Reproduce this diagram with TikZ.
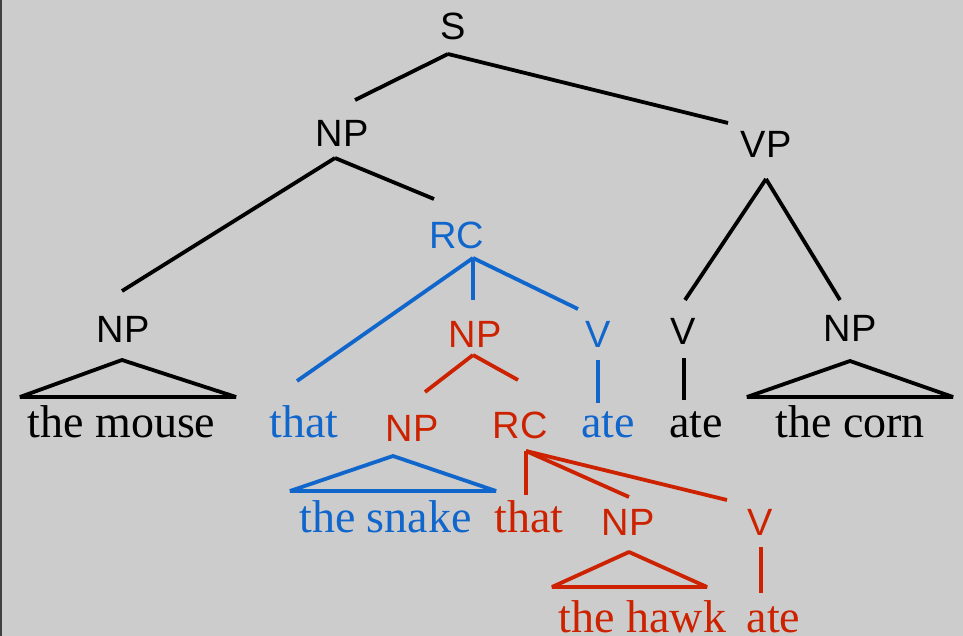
\documentclass[tikz,border=0pt]{standalone}
\usepackage{fontspec}
\setmainfont{Liberation Serif}
\newfontfamily\labfont{Liberation Sans}
\definecolor{tblue}{RGB}{17,102,204}
\definecolor{tred}{RGB}{204,34,0}
\definecolor{bgc}{RGB}{204,204,204}
\begin{document}
\begin{tikzpicture}[x=1pt,y=-1pt,
  lab/.style={font=\labfont\fontsize{38}{38}\selectfont, inner sep=0pt, anchor=base},
  word/.style={font=\fontsize{46}{46}\selectfont, inner sep=0pt, anchor=base},
  br/.style={line width=3.8pt},
  tri/.style={line width=3.8pt, line join=bevel}]
\fill[bgc] (0,0) rectangle (963,636);
\useasboundingbox (0,0) rectangle (963,636);
\fill[black!75] (0,0) rectangle (1.5,636);

% labels
\node[lab] (S) at (453,40) {S};
\node[lab] (NPa) at (342,147) {NP};
\node[lab] (VP) at (766,158) {VP};
\node[lab, text=tblue] (RCa) at (457,248) {RC};
\node[lab] (NPl) at (123,342) {NP};
\node[lab, text=tred] (NPb) at (475,347) {NP};
\node[lab, text=tblue] (Va) at (598,347) {V};
\node[lab] (Vb) at (683,344) {V};
\node[lab] (NPr) at (850,341) {NP};
\node[lab, text=tred] (NPc) at (412,441) {NP};
\node[lab, text=tred] (RCb) at (520,438) {RC};
\node[lab, text=tred] (NPd) at (628,535) {NP};
\node[lab, text=tred] (Vc) at (760,535) {V};

% words
\node[word] (wmouse) at (121.5,437) {the mouse};
\node[word, text=tblue] (wthat1) at (304,437) {that};
\node[word, text=tblue] (wate1) at (608,437) {ate};
\node[word] (wate2) at (696,437) {ate};
\node[word] (wcorn) at (850,437) {the corn};
\node[word, text=tblue] (wsnake) at (385.5,532) {the snake};
\node[word, text=tred] (wthat2) at (529,532) {that};
\node[word, text=tred] (whawk) at (642.5,632) {the hawk};
\node[word, text=tred] (wate3) at (773.5,632) {ate};

% connector end points
\coordinate (S-d) at (448,54);
\coordinate (NPa-u) at (355,100);
\coordinate (VP-u) at (728,123);
\coordinate (NPa-d) at (335,158);
\coordinate (NPl-u) at (122,291);
\coordinate (RCa-u) at (434,199);
\coordinate (RCa-d) at (473,258);
\coordinate (that1-u) at (297,381);
\coordinate (NPb-u) at (473,300);
\coordinate (Va-u) at (578,309);
\coordinate (Va-d) at (598,360);
\coordinate (ate1-u) at (598,403);
\coordinate (NPb-d) at (473,355);
\coordinate (NPc-u) at (425,392);
\coordinate (RCb-u) at (518,380);
\coordinate (VP-d) at (766,179);
\coordinate (Vb-u) at (685,300);
\coordinate (NPr-u) at (840,300);
\coordinate (Vb-d) at (684,358);
\coordinate (ate2-u) at (684,400);
\coordinate (RCb-d) at (526,451);
\coordinate (that2-u) at (526,495);
\coordinate (NPd-u) at (629,497);
\coordinate (Vc-u) at (727,500);
\coordinate (Vc-d) at (761,547);
\coordinate (ate3-u) at (761,593);
% triangles
\coordinate (NPl-d) at (122,360);
\coordinate (NPl-bl) at (20,397);
\coordinate (NPl-br) at (236,397);
\coordinate (NPr-d) at (850,361);
\coordinate (NPr-bl) at (747,397);
\coordinate (NPr-br) at (953,397);
\coordinate (NPc-d) at (393,456);
\coordinate (NPc-bl) at (290,491);
\coordinate (NPc-br) at (496,491);
\coordinate (NPd-d) at (629,552);
\coordinate (NPd-bl) at (552,587);
\coordinate (NPd-br) at (707,587);

% black branches
\draw[br] (S-d) -- (NPa-u);
\draw[br] (S-d) -- (VP-u);
\draw[br] (NPa-d) -- (NPl-u);
\draw[br] (NPa-d) -- (RCa-u);
\draw[br] (VP-d) -- (Vb-u);
\draw[br] (VP-d) -- (NPr-u);
\draw[br] (Vb-d) -- (ate2-u);
\draw[tri] (NPl-d) -- (NPl-bl) -- (NPl-br) -- cycle;
\draw[tri] (NPr-d) -- (NPr-bl) -- (NPr-br) -- cycle;

% blue branches
\draw[br, tblue] (RCa-d) -- (that1-u);
\draw[br, tblue] (RCa-d) -- (NPb-u);
\draw[br, tblue] (RCa-d) -- (Va-u);
\draw[br, tblue] (Va-d) -- (ate1-u);
\draw[tri, tblue] (NPc-d) -- (NPc-bl) -- (NPc-br) -- cycle;

% red branches
\draw[br, tred] (NPb-d) -- (NPc-u);
\draw[br, tred] (NPb-d) -- (RCb-u);
\draw[br, tred] (RCb-d) -- (that2-u);
\draw[br, tred] (RCb-d) -- (NPd-u);
\draw[br, tred] (RCb-d) -- (Vc-u);
\draw[br, tred] (Vc-d) -- (ate3-u);
\draw[tri, tred] (NPd-d) -- (NPd-bl) -- (NPd-br) -- cycle;
\end{tikzpicture}
\end{document}
